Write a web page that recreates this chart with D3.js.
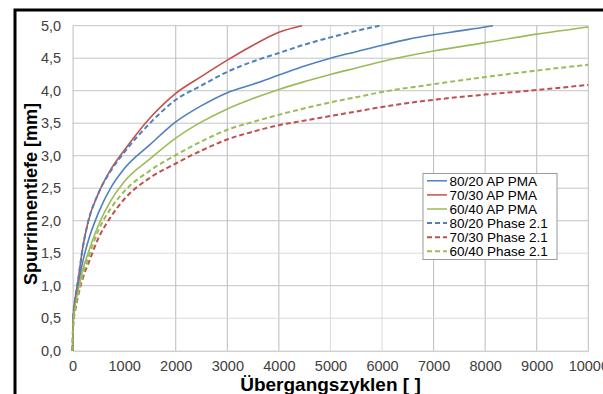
<!DOCTYPE html>
<html>
<head>
<meta charset="utf-8">
<script src="https://cdn.jsdelivr.net/npm/d3@7"></script>
<style>
  body { margin: 0; background: #fff; }
  svg { display: block; font-family: "Liberation Sans", Arial, sans-serif; }
</style>
</head>
<body>
<div id="chart"></div>
<script>
// measured rut depth curves, [cycles, depth mm]
const ap8020 = [[0,0],[10,0.42],[25,0.6],[50,0.75],[100,0.97],[200,1.38],[300,1.68],[500,2.12],[750,2.52],[1000,2.8],[1500,3.17],[2000,3.52],[2500,3.77],[3000,3.97],[3500,4.1],[4000,4.24],[4500,4.38],[5000,4.5],[5500,4.6],[6000,4.7],[6500,4.79],[7000,4.86],[7500,4.92],[8000,4.98],[8150,5.0]];
const ap7030 = [[0,0],[10,0.45],[25,0.65],[50,0.8],[100,1.05],[200,1.6],[300,1.98],[500,2.42],[750,2.8],[1000,3.08],[1500,3.58],[2000,3.96],[2500,4.22],[3000,4.47],[3500,4.7],[4000,4.9],[4450,5.0]];
const ap6040 = [[0,0],[10,0.4],[25,0.55],[50,0.7],[100,0.9],[200,1.25],[300,1.5],[500,1.93],[750,2.32],[1000,2.6],[1500,2.95],[2000,3.27],[2500,3.52],[3000,3.72],[3500,3.88],[4000,4.02],[4500,4.14],[5000,4.25],[5500,4.35],[6000,4.45],[7000,4.61],[8000,4.74],[9000,4.87],[10000,4.98]];
const ph8020 = [[0,0],[10,0.45],[25,0.65],[50,0.8],[100,1.05],[200,1.6],[300,1.98],[500,2.42],[750,2.78],[1000,3.05],[1500,3.5],[2000,3.86],[2500,4.08],[3000,4.29],[3500,4.45],[4000,4.58],[4500,4.71],[5000,4.82],[5500,4.92],[5950,5.0]];
const ph7030 = [[0,0],[10,0.35],[25,0.5],[50,0.62],[100,0.82],[200,1.12],[300,1.33],[500,1.73],[750,2.07],[1000,2.33],[1500,2.66],[2000,2.88],[2500,3.08],[3000,3.25],[3500,3.37],[4000,3.47],[4500,3.54],[5000,3.61],[5500,3.68],[6000,3.75],[7000,3.86],[8000,3.94],[9000,4.01],[10000,4.09]];
const ph6040 = [[0,0],[10,0.38],[25,0.52],[50,0.66],[100,0.85],[200,1.18],[300,1.42],[500,1.85],[750,2.2],[1000,2.45],[1500,2.77],[2000,3.01],[2500,3.22],[3000,3.4],[3500,3.52],[4000,3.63],[4500,3.73],[5000,3.82],[5500,3.9],[6000,3.98],[7000,4.1],[8000,4.21],[9000,4.31],[10000,4.4]];

const seriesNames = ["80/20 AP PMA", "70/30 AP PMA", "60/40 AP PMA", "80/20 Phase 2.1", "70/30 Phase 2.1", "60/40 Phase 2.1"];
const seriesData = [ap8020, ap7030, ap6040, ph8020, ph7030, ph6040];
const xTicks = [0, 1000, 2000, 3000, 4000, 5000, 6000, 7000, 8000, 9000, 10000];
const yTicks = [0, 0.5, 1, 1.5, 2, 2.5, 3, 3.5, 4, 4.5, 5];

const colors = ["#4f81bd", "#c0504d", "#9bbb59", "#4f81bd", "#c0504d", "#9bbb59"];
const dashed = [false, false, false, true, true, true];

const width = 603, height = 394;
const margin = { top: 25.7, right: 15, bottom: 43.3, left: 72.6 };
const plotW = 588.3 - margin.left;
const plotH = 350.7 - margin.top;

const svg = d3.select("#chart").append("svg")
  .attr("width", width)
  .attr("height", height);

// outer black frame (runs off the right and bottom edges)
svg.append("rect")
  .attr("x", 15).attr("y", 10)
  .attr("width", 700).attr("height", 500)
  .attr("fill", "none")
  .attr("stroke", "#000")
  .attr("stroke-width", 3);

const g = svg.append("g")
  .attr("transform", "translate(" + [margin.left, margin.top] + ")");

const x = d3.scaleLinear().domain([0, 10000]).range([0, plotW]);
const y = d3.scaleLinear().domain([0, 5]).range([plotH, 0]);

// gridlines
g.append("g").selectAll("line")
  .data(xTicks.filter(d => d > 0 && d !== 1000))
  .join("line")
  .attr("x1", d => x(d)).attr("x2", d => x(d))
  .attr("y1", 0).attr("y2", plotH)
  .attr("stroke", d => (d === 5000 || d === 6000) ? "#dadada" : "#bcbcbc")
  .attr("stroke-width", 1);

g.append("g").selectAll("line")
  .data(yTicks.filter(d => d > 0))
  .join("line")
  .attr("x1", 0).attr("x2", plotW)
  .attr("y1", d => y(d)).attr("y2", d => y(d))
  .attr("stroke", d => (d === 0.5 || d === 1.5) ? "#dadada" : "#c4c4c4")
  .attr("stroke-width", 1);

// axes
const xAxis = d3.axisBottom(x).tickValues(xTicks).tickSize(0).tickPadding(10)
  .tickFormat(d3.format("d"));
const yAxis = d3.axisLeft(y).tickValues(yTicks).tickSize(0).tickPadding(11.5)
  .tickFormat(d => d3.format(".1f")(d).replace(".", ","));

g.append("g")
  .attr("transform", "translate(0," + plotH + ")")
  .call(xAxis)
  .call(a => a.select(".domain").attr("stroke", "#bcbcbc"))
  .call(a => a.selectAll("text").attr("font-size", 14.5).attr("fill", "#404040")
    .attr("font-family", "Liberation Sans, Arial, sans-serif"));

g.append("g")
  .call(yAxis)
  .call(a => a.select(".domain").attr("stroke", "#bcbcbc"))
  .call(a => a.selectAll("text").attr("font-size", 14.5).attr("fill", "#404040")
    .attr("font-family", "Liberation Sans, Arial, sans-serif"));

// curves
const line = d3.line()
  .x(d => x(d[0]))
  .y(d => y(d[1]))
  .curve(d3.curveMonotoneX);

g.append("g").selectAll("path")
  .data(seriesData)
  .join("path")
  .attr("d", line)
  .attr("fill", "none")
  .attr("stroke", (d, i) => colors[i])
  .attr("stroke-width", (d, i) => dashed[i] ? 2 : 1.6)
  .attr("stroke-dasharray", (d, i) => dashed[i] ? "5,3" : null);

// axis titles
svg.append("text")
  .attr("x", margin.left + plotW / 2)
  .attr("y", 391)
  .attr("text-anchor", "middle")
  .attr("font-size", 19)
  .attr("font-weight", "bold")
  .attr("fill", "#000")
  .text("Übergangszyklen [ ]");

svg.append("text")
  .attr("transform", "translate(37,194) rotate(-90)")
  .attr("text-anchor", "middle")
  .attr("font-size", 18)
  .attr("font-weight", "bold")
  .attr("fill", "#000")
  .text("Spurrinnentiefe [mm]");

// legend
const legend = svg.append("g").attr("transform", "translate(423,173.5)");
legend.append("rect")
  .attr("width", 134).attr("height", 86)
  .attr("fill", "#fff")
  .attr("stroke", "#9a9a9a")
  .attr("stroke-width", 1);

const items = legend.selectAll("g.item")
  .data(seriesNames)
  .join("g")
  .attr("class", "item")
  .attr("transform", (d, i) => "translate(0," + (7.3 + i * 14.1) + ")");

items.append("line")
  .attr("x1", 4).attr("x2", 24)
  .attr("stroke", (d, i) => colors[i])
  .attr("stroke-width", (d, i) => dashed[i] ? 2 : 1.5)
  .attr("stroke-dasharray", (d, i) => dashed[i] ? "5,3" : null);

items.append("text")
  .attr("x", 26.5)
  .attr("dy", "0.36em")
  .attr("font-size", 13.5)
  .attr("fill", "#000")
  .text(d => d);
</script>
</body>
</html>
